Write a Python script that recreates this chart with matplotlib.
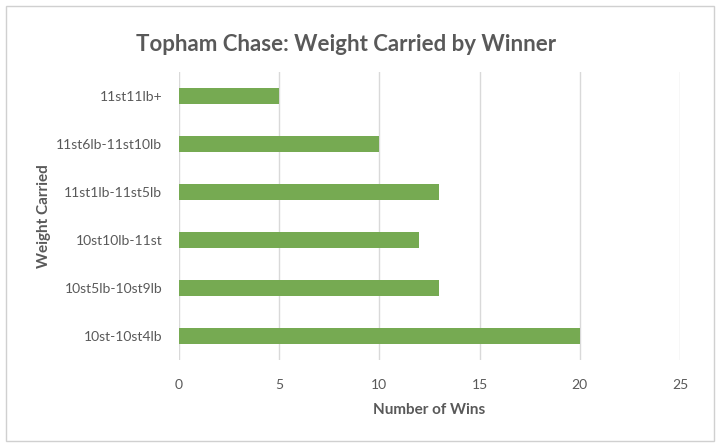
import matplotlib.pyplot as plt
from matplotlib.patches import Rectangle

weights = ['10st-10st4lb', '10st5lb-10st9lb', '10st10lb-11st',
           '11st1lb-11st5lb', '11st6lb-11st10lb', '11st11lb+']
wins = [20, 13, 12, 13, 10, 5]

plt.rcParams['font.family'] = ['Lato', 'DejaVu Sans']
grey = '#595959'

fig = plt.figure(figsize=(7.2, 4.47), dpi=100)
ax = fig.add_axes([0.2486, 0.1946, 0.6958, 0.6443])

y = range(len(weights))
ax.barh(y, wins, height=0.33, color='#76AA52', zorder=3)
ax.set_xlim(0, 25)
ax.set_ylim(-0.5, len(weights) - 0.5)
ax.set_xticks(range(0, 26, 5))
ax.set_yticks(list(y))
ax.set_yticklabels(weights)
ax.grid(axis='x', color='#d9d9d9', linewidth=1, zorder=0)
for s in ax.spines.values():
    s.set_visible(False)
ax.tick_params(length=0, labelsize=10, colors=grey, pad=12)
ax.tick_params(axis='x', pad=14)

ax.set_xlabel('Number of Wins', fontsize=11, fontweight='bold', color=grey, labelpad=8)
ax.set_ylabel('Weight Carried', fontsize=11, fontweight='bold', color=grey, labelpad=4)
fig.text(0.48, 0.9, 'Topham Chase: Weight Carried by Winner', ha='center', va='center',
         fontsize=16, fontweight='bold', color=grey)

fig.patches.append(Rectangle((0.009, 0.013), 0.982, 0.974, transform=fig.transFigure,
                             fill=False, edgecolor='#d0d0d0', linewidth=1))

fig.savefig('out.png', dpi=100)
